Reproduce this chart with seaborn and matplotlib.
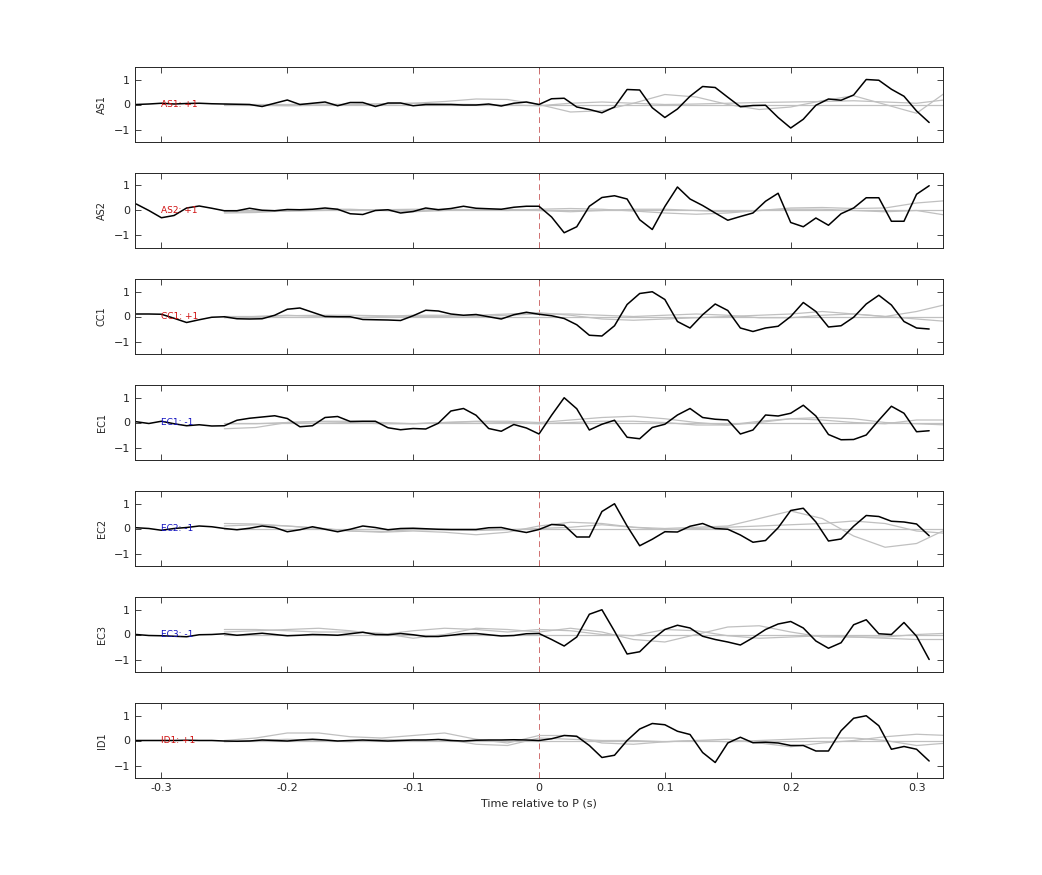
import numpy as np
import matplotlib
matplotlib.use("Agg")
import matplotlib.pyplot as plt
import seaborn as sns

sns.set_style("ticks")
plt.rcParams['font.family'] = ['DejaVu Sans']

t = np.round(np.arange(-0.32, 0.315, 0.01), 3)
tg = np.round(np.arange(-0.25, 0.33, 0.025), 3)

stations = ["AS1", "AS2", "CC1", "EC1", "EC2", "EC3", "ID1"]
polarity = ["+1", "+1", "+1", "-1", "-1", "-1", "+1"]

AS1 = [0, 0.02, 0.05, 0.02, 0.04, 0.05, 0.03, 0.02, 0.01, 0.0, -0.08, 0.05, 0.18, 0.0, 0.05, 0.1,
       -0.05, 0.08, 0.08, -0.08, 0.06, 0.06, -0.05, 0.0, 0.0, 0.0, -0.02, -0.02, 0.02, -0.06, 0.05, 0.1,
       0.0, 0.23, 0.25, -0.1, -0.2, -0.33, -0.1, 0.6, 0.58, -0.13, -0.52, -0.18, 0.33, 0.72, 0.68, 0.29,
       -0.09, -0.04, -0.03, -0.52, -0.94, -0.59, -0.03, 0.22, 0.17, 0.38, 1.0, 0.97, 0.61, 0.33, -0.26, -0.72]
AS2 = [0.26, 0.0, -0.29, -0.2, 0.1, 0.18, 0.09, -0.01, -0.01, 0.09, 0.01, -0.01, 0.04, 0.03, 0.05, 0.1,
       0.05, -0.13, -0.16, 0.0, 0.03, -0.1, -0.04, 0.1, 0.03, 0.08, 0.17, 0.09, 0.07, 0.05, 0.13, 0.17,
       0.17, -0.26, -0.89, -0.65, 0.17, 0.52, 0.59, 0.46, -0.37, -0.76, 0.16, 0.94, 0.46, 0.2, -0.1, -0.39,
       -0.24, -0.1, 0.37, 0.69, -0.48, -0.65, -0.3, -0.59, -0.13, 0.1, 0.51, 0.51, -0.43, -0.43, 0.65, 0.99]
CC1 = [0.1, 0.1, 0.09, -0.07, -0.24, -0.13, -0.03, -0.01, -0.09, -0.1, -0.09, 0.05, 0.29, 0.34, 0.17, 0.0,
       -0.01, -0.01, -0.12, -0.13, -0.14, -0.16, 0.03, 0.25, 0.22, 0.1, 0.05, 0.08, -0.01, -0.1, 0.07, 0.17,
       0.09, 0.03, -0.08, -0.33, -0.75, -0.78, -0.37, 0.48, 0.92, 0.99, 0.68, -0.2, -0.46, 0.07, 0.5, 0.24,
       -0.46, -0.6, -0.46, -0.39, 0.0, 0.56, 0.2, -0.42, -0.37, -0.03, 0.5, 0.85, 0.46, -0.2, -0.46, -0.5]
EC1 = [0.03, -0.04, 0.05, -0.05, -0.13, -0.09, -0.14, -0.13, 0.09, 0.17, 0.22, 0.27, 0.16, -0.17, -0.13, 0.2,
       0.24, 0.04, 0.05, 0.05, -0.21, -0.29, -0.24, -0.26, -0.03, 0.46, 0.56, 0.29, -0.24, -0.35, -0.08, -0.22,
       -0.46, 0.29, 0.99, 0.55, -0.3, -0.07, 0.09, -0.59, -0.65, -0.2, -0.07, 0.3, 0.56, 0.2, 0.13, 0.1,
       -0.46, -0.3, 0.3, 0.26, 0.37, 0.69, 0.26, -0.48, -0.69, -0.68, -0.5, 0.09, 0.65, 0.37, -0.37, -0.33]
EC2 = [0.03, 0.0, -0.07, 0.0, 0.04, 0.1, 0.07, 0.0, -0.05, 0.01, 0.1, 0.04, -0.13, -0.05, 0.07, -0.03,
       -0.13, -0.03, 0.1, 0.04, -0.05, 0.0, 0.01, -0.01, -0.03, -0.04, -0.04, -0.04, 0.03, 0.04, -0.07, -0.16,
       -0.04, 0.16, 0.13, -0.34, -0.34, 0.68, 0.99, 0.1, -0.69, -0.43, -0.13, -0.14, 0.09, 0.2, 0.0, -0.03,
       -0.26, -0.55, -0.48, 0.03, 0.72, 0.81, 0.26, -0.5, -0.42, 0.09, 0.52, 0.48, 0.29, 0.26, 0.18, -0.29]
EC3 = [0.0, -0.04, -0.05, -0.07, -0.09, -0.01, 0.0, 0.03, -0.03, 0.01, 0.05, 0.0, -0.05, -0.03, 0.0, -0.01,
       -0.03, 0.03, 0.09, 0.0, -0.01, 0.04, -0.01, -0.08, -0.08, -0.03, 0.03, 0.04, -0.01, -0.06, -0.04, 0.03,
       0.04, -0.2, -0.46, -0.1, 0.81, 0.99, 0.13, -0.78, -0.69, -0.2, 0.2, 0.37, 0.26, -0.07, -0.2, -0.3,
       -0.42, -0.13, 0.2, 0.42, 0.52, 0.26, -0.26, -0.55, -0.33, 0.39, 0.59, 0.03, 0.0, 0.48, -0.07, -1.0]
ID1 = [0, 0, 0, 0, 0.01, 0, 0, -0.02, -0.03, -0.02, 0.02, 0, -0.02, 0.02, 0.05, 0.02,
       -0.02, 0, 0.02, 0, -0.02, 0, 0.02, 0.02, 0.04, 0.0, -0.02, 0.01, 0.02, 0.02, 0.03, 0.02,
       0.0, 0.07, 0.2, 0.17, -0.2, -0.68, -0.59, 0.0, 0.46, 0.68, 0.63, 0.37, 0.24, -0.48, -0.88, -0.1,
       0.13, -0.09, -0.07, -0.1, -0.2, -0.2, -0.42, -0.42, 0.39, 0.89, 0.99, 0.59, -0.35, -0.24, -0.35, -0.82]
black = [AS1, AS2, CC1, EC1, EC2, EC3, ID1]

G_AS1a = [0, 0, 0, 0.02, 0, 0.02, 0.05, 0.12, 0.22, 0.2, 0.0, -0.3, -0.25, 0.05, 0.4, 0.3, 0.0, -0.2, -0.1, 0.15, 0.35, 0.0, -0.35, 0.55]
G_AS1b = [0, -0.03, -0.05, -0.03, 0, 0.03, 0.05, 0.02, 0, -0.02, -0.05, 0.05, 0.1, 0.05, 0, 0.02, 0.05, 0.08, 0.1, 0.12, 0.15, 0.1, 0.05, 0.2]
G_AS2a = [-0.05, -0.05, -0.03, 0, 0.02, 0.03, 0.05, 0.05, 0.03, 0, 0.05, 0.08, 0.05, -0.02, -0.1, -0.15, -0.1, 0, 0.1, 0.12, 0.08, 0.1, 0.3, 0.4]
G_AS2b = [-0.1, -0.08, 0, 0.05, 0.05, 0, -0.05, 0, 0.05, 0.05, 0.0, -0.05, 0, 0.05, 0.05, 0, -0.05, 0, 0.05, 0.05, 0, -0.05, 0, -0.2]
G_CC1a = [0, 0, 0.03, 0.05, 0.05, 0.03, 0, 0, 0.05, 0.1, 0.15, 0.05, -0.1, -0.15, -0.1, -0.05, 0, 0.05, 0.1, 0.2, 0.1, 0, 0.2, 0.5]
G_CC1b = [-0.05, 0, 0.05, 0, -0.05, 0, 0.05, 0.05, 0, 0.05, 0.1, 0.1, 0.05, 0.0, 0.05, 0.1, 0.05, -0.05, -0.05, 0.05, 0.1, 0.0, -0.1, -0.2]
G_EC1a = [-0.25, -0.2, 0, 0.05, 0.05, 0, -0.05, 0, 0.05, 0.05, 0, 0.1, 0.2, 0.25, 0.15, 0, -0.1, 0.05, 0.15, 0.1, 0, -0.05, 0.1, 0.1]
G_EC1b = [-0.05, -0.05, 0, 0.03, 0, -0.05, -0.05, 0, 0.03, 0, -0.05, 0, 0.05, 0.05, 0, -0.1, -0.1, 0, 0.15, 0.2, 0.15, 0, -0.05, -0.1]
G_EC2a = [0.2, 0.18, 0.1, 0.0, -0.1, -0.15, -0.1, -0.15, -0.25, -0.15, 0.1, 0.25, 0.2, 0.05, 0.0, 0.05, 0.1, 0.4, 0.7, 0.4, -0.3, -0.75, -0.6, 0.0]
G_EC2b = [0.1, 0.15, 0.1, 0.02, -0.1, -0.12, -0.05, -0.05, -0.08, -0.05, 0, 0.05, 0.15, 0.05, -0.05, 0, 0.05, 0.1, 0.15, 0.2, 0.3, 0.2, -0.1, -0.2]
G_EC3a = [0.2, 0.2, 0.15, 0.1, 0.1, 0.05, -0.15, 0.0, 0.25, 0.2, 0.1, 0.25, 0.1, -0.2, -0.3, 0, 0.3, 0.35, 0.1, -0.1, -0.1, -0.15, -0.2, -0.2]
G_EC3b = [0.1, 0.15, 0.2, 0.25, 0.15, 0.0, 0.15, 0.25, 0.2, 0.1, 0.2, 0.15, 0.0, -0.05, 0.2, 0.15, -0.05, -0.15, -0.1, -0.05, -0.1, -0.1, 0.0, 0.05]
G_ID1a = [0, 0.1, 0.3, 0.3, 0.15, 0.1, 0.2, 0.3, 0.05, -0.1, 0.2, 0.2, -0.1, -0.15, -0.05, 0, 0.05, -0.1, -0.25, -0.1, 0, 0.15, 0.25, 0.2]
G_ID1b = [-0.05, 0, 0.05, 0.0, -0.05, 0.05, 0.0, 0.05, -0.15, -0.2, 0.1, 0.05, 0, 0, -0.05, 0, -0.05, 0.0, 0.05, 0.1, 0.1, 0.0, -0.2, -0.1]
gray = [(G_AS1a, G_AS1b), (G_AS2a, G_AS2b), (G_CC1a, G_CC1b), (G_EC1a, G_EC1b),
        (G_EC2a, G_EC2b), (G_EC3a, G_EC3b), (G_ID1a, G_ID1b)]
flat = [0.0] * len(tg)

fig = plt.figure(figsize=(10.42, 8.75), dpi=100)
W, H = 1042, 875
tops = [67, 173, 279, 385, 491, 597, 703]
for i, st in enumerate(stations):
    ax = fig.add_axes([135 / W, 1 - (tops[i] + 75) / H, 808 / W, 75 / H])
    for g in gray[i] + (flat,):
        sns.lineplot(x=tg, y=g, ax=ax, color="#c0c0c0", lw=0.9)
    ax.axvline(0, color="#d07070", lw=0.7, ls=(0, (6, 4)), zorder=1)
    sns.lineplot(x=t, y=black[i], ax=ax, color="black", lw=1.1)
    ax.set_xlim(-0.321, 0.321)
    ax.set_ylim(-1.5, 1.5)
    ax.set_yticks([-1, 0, 1])
    ax.set_xticks([-0.3, -0.2, -0.1, 0, 0.1, 0.2, 0.3])
    ax.tick_params(direction="in", top=True, right=True, labelsize=8, length=4, width=0.6)
    for s in ax.spines.values():
        s.set_linewidth(0.7)
    ax.set_ylabel(st, fontsize=7)
    ax.yaxis.set_label_coords(-0.035, 0.5)
    col = "#d01010" if polarity[i] == "+1" else "#1010c0"
    ax.text(-0.3, 0, f"{st}: {polarity[i]}", color=col, fontsize=6.5, va="center", ha="left")
    if i < len(stations) - 1:
        ax.set_xticklabels([])
    else:
        ax.set_xticklabels(["-0.3", "-0.2", "-0.1", "0", "0.1", "0.2", "0.3"])
        ax.set_xlabel("Time relative to P (s)", fontsize=8)

fig.savefig("out.png", dpi=100)
